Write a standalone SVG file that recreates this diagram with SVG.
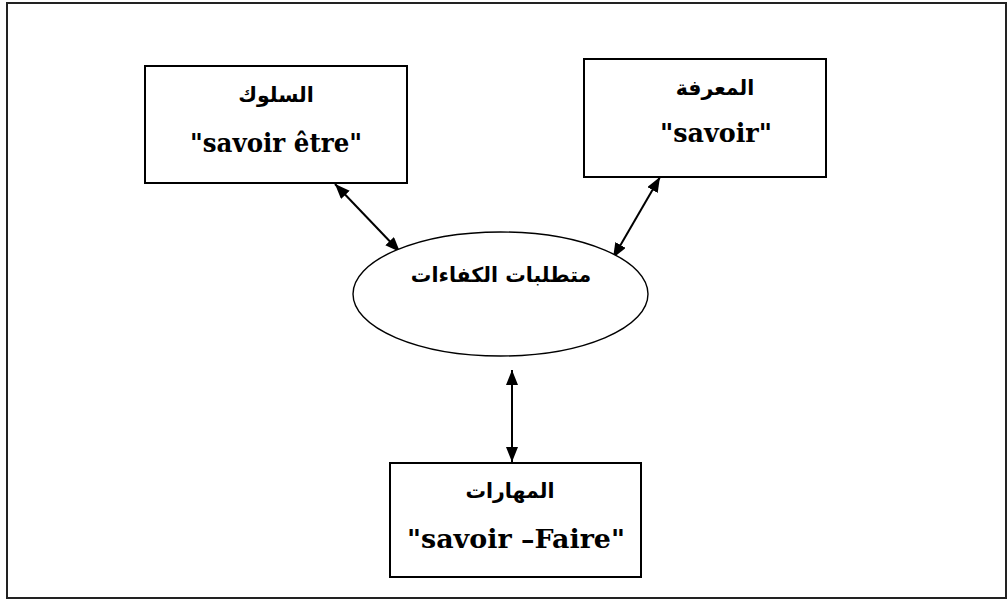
<svg xmlns="http://www.w3.org/2000/svg" width="1007" height="599" viewBox="0 0 1007 599">
  <defs>
    <marker id="head" viewBox="0 0 15 12" refX="15" refY="6" markerWidth="15" markerHeight="12" markerUnits="userSpaceOnUse" orient="auto-start-reverse">
      <path d="M0,0 L15,6 L0,12 Z" fill="#000"/>
    </marker>
    <style>
      .frame { fill: #fff; stroke: #222; stroke-width: 2; }
      .box { fill: #fff; stroke: #000; stroke-width: 2; }
      .oval { fill: #fff; stroke: #000; stroke-width: 1.4; }
      .link { stroke: #000; stroke-width: 2; fill: none; marker-start: url(#head); marker-end: url(#head); }
      .ar { font-family: "DejaVu Sans", sans-serif; font-weight: bold; font-size: 20.5px; fill: #000; text-anchor: middle; }
      .fr { font-family: "DejaVu Serif", "Liberation Serif", serif; font-weight: bold; font-size: 26px; fill: #000; text-anchor: middle; }
    </style>
  </defs>

  <!-- page frame -->
  <rect class="frame" x="7" y="3" width="999" height="595"/>

  <!-- connectors -->
  <g id="connectors">
    <line class="link" x1="335" y1="184" x2="400" y2="252"/>
    <line class="link" x1="660" y1="177" x2="613" y2="258"/>
    <line class="link" x1="512" y1="370" x2="512" y2="462"/>
  </g>

  <g id="node-suluk">
    <rect class="box" x="145" y="66" width="262" height="117"/>
    <text class="ar" x="276" y="102" direction="rtl">السلوك</text>
    <text class="fr" x="276" y="152" textLength="172" lengthAdjust="spacingAndGlyphs">"savoir être"</text>
  </g>

  <g id="node-maarifa">
    <rect class="box" x="584" y="59" width="242" height="118"/>
    <text class="ar" x="715" y="95" direction="rtl">المعرفة</text>
    <text class="fr" x="716" y="142" textLength="112" lengthAdjust="spacingAndGlyphs">"savoir"</text>
  </g>

  <g id="node-center">
    <ellipse class="oval" cx="500.5" cy="294" rx="147.5" ry="62"/>
    <text class="ar" x="501" y="282" direction="rtl">متطلبات الكفاءات</text>
  </g>

  <g id="node-maharat">
    <rect class="box" x="390" y="463" width="251" height="114"/>
    <text class="ar" x="510" y="498" direction="rtl">المهارات</text>
    <text class="fr" x="516" y="548" textLength="218" lengthAdjust="spacingAndGlyphs">"savoir –Faire"</text>
  </g>
</svg>
